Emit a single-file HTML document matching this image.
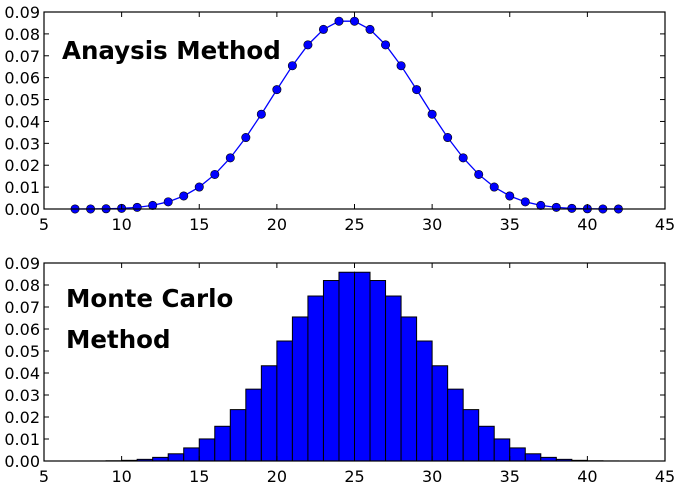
<!DOCTYPE html>
<html><head><meta charset="utf-8"><style>
body{margin:0;background:#fff;}
svg text{font-family:"DejaVu Sans","Liberation Sans",sans-serif;}
</style></head><body>
<svg id="c" width="681" height="486" xmlns="http://www.w3.org/2000/svg"></svg>
<script>
const sums=[7,8,9,10,11,12,13,14,15,16,17,18,19,20,21,22,23,24,25,26,27,28,29,30,31,32,33,34,35,36,37,38,39,40,41,42];
const probs=[0.0000036,0.000025,0.0001,0.0003,0.00075,0.00165,0.00328,0.00595,0.01003,0.01578,0.02336,0.03266,0.04329,0.05454,0.06547,0.07499,0.08204,0.08580,0.08580,0.08204,0.07499,0.06547,0.05454,0.04329,0.03266,0.02336,0.01578,0.01003,0.00595,0.00328,0.00165,0.00075,0.0003,0.0001,0.000025,0.0000036];
const xTicks=[5,10,15,20,25,30,35,40,45];
const yTicks=[0,0.01,0.02,0.03,0.04,0.05,0.06,0.07,0.08,0.09];
const NS="http://www.w3.org/2000/svg";
const svg=document.getElementById('c');
function mk(t,a,p){const e=document.createElementNS(NS,t);for(const k in a)e.setAttribute(k,a[k]);(p||svg).appendChild(e);return e;}
const L=44,R=665;
function xs(v){return L+(v-5)*(R-L)/40;}
function panel(top,bot,name,kind,labels){
  const ys=v=>bot-v*(bot-top)/0.09;
  const g=mk('g',{});
  
  
  if(kind==='bar'){
    sums.forEach((s,i)=>{const r=mk('rect',{x:xs(s),y:ys(probs[i]),width:xs(s+1)-xs(s),height:bot-ys(probs[i]),fill:'#0000ff',stroke:'#000','stroke-width':1},g);
      
      });
  }else{
    const pts=sums.map((s,i)=>xs(s)+','+ys(probs[i])).join(' ');
    const pl=mk('polyline',{points:pts,fill:'none',stroke:'#0000ff','stroke-width':1.3},g);
    
    
    sums.forEach((s,i)=>{const c=mk('circle',{cx:xs(s),cy:ys(probs[i]),r:4.2,fill:'#0000ff',stroke:'#000','stroke-width':0.6},g);
      
      });
  }
  const f=mk('rect',{x:L,y:top,width:R-L,height:bot-top,fill:'none',stroke:'#000','stroke-width':1.2},g);
  
  
  xTicks.forEach(t=>{const x=xs(t);
    mk('line',{x1:x,x2:x,y1:bot,y2:bot-5,stroke:'#000'},g);mk('line',{x1:x,x2:x,y1:top,y2:top+5,stroke:'#000'},g);
    const tx=mk('text',{x:x,y:bot+21,'text-anchor':'middle','font-size':16},g);tx.textContent=t;
    
    });
  yTicks.forEach(t=>{const y=ys(t);
    mk('line',{x1:L,x2:L+5,y1:y,y2:y,stroke:'#000'},g);mk('line',{x1:R,x2:R-5,y1:y,y2:y,stroke:'#000'},g);
    const tx=mk('text',{x:L-4,y:y+6,'text-anchor':'end','font-size':16},g);tx.textContent=t.toFixed(2);
    
    });
  labels.forEach((l,i)=>{const tx=mk('text',{x:l[1],y:l[2],'font-size':24.5,'font-weight':'bold'},g);tx.textContent=l[0];
    
    });
}
panel(12,209,'analysis-panel','line',[['Anaysis Method',62,59]]);
panel(263,461,'monte-carlo-panel','bar',[['Monte Carlo',66,307],['Method',66,348]]);
</script>
</body></html>
